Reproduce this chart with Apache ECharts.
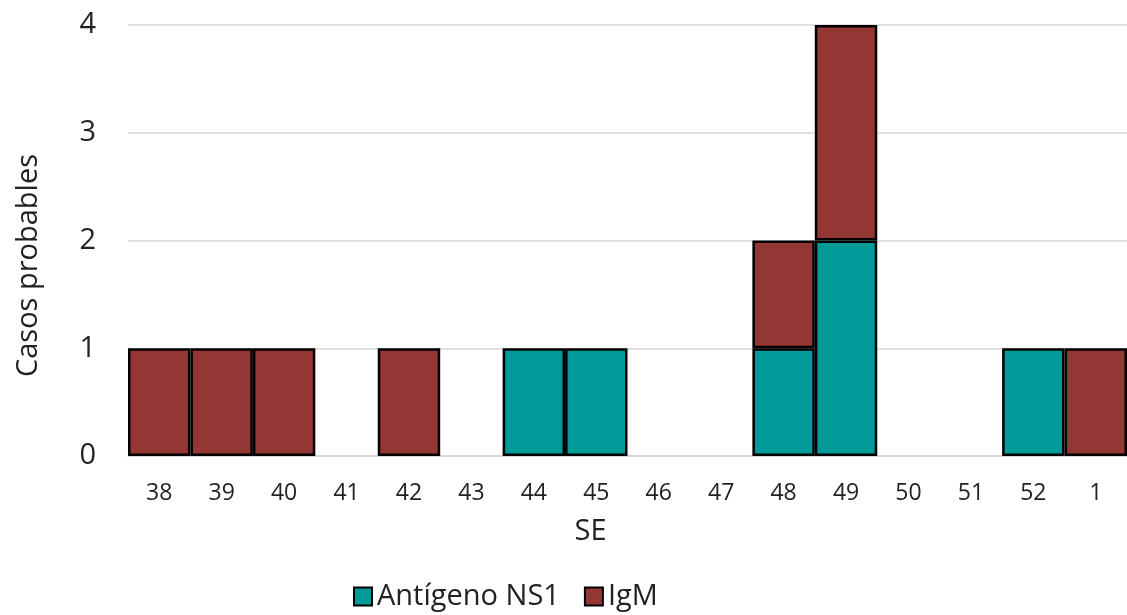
<!DOCTYPE html>
<html>
<head>
<meta charset="utf-8">
<script src="https://cdn.jsdelivr.net/npm/echarts@6/dist/echarts.min.js"></script>
<style>html,body{margin:0;padding:0;background:#fff}#c{width:1127px;height:615px}</style>
</head>
<body>
<div id="c"></div>
<script>
var categories = ['38','39','40','41','42','43','44','45','46','47','48','49','50','51','52','1'];
var ns1 = [0,0,0,0,0,0,1,1,0,0,1,2,0,0,1,0];
var igm = [1,1,1,0,1,0,0,0,0,0,1,2,0,0,0,1];
var yTicks = [0,1,2,3,4];

var font = '"Open Sans", "Noto Sans", sans-serif';
function nz(a){ return a.map(function(v){ return v === 0 ? '-' : v; }); }

var chart = echarts.init(document.getElementById('c'));
chart.setOption({
  animation: false,
  textStyle: { fontFamily: font },
  grid: { left: 128, right: 0, top: 25, bottom: 159, containLabel: false },
  legend: {
    left: 348, top: 577,
    itemWidth: 18, itemHeight: 18, itemGap: 24,
    textStyle: { fontSize: 29, color: '#222', fontFamily: font },
    data: [
      { name: 'Antígeno NS1', icon: 'rect', itemStyle: { borderColor: '#000', borderWidth: 2 } },
      { name: 'IgM', icon: 'rect', itemStyle: { borderColor: '#000', borderWidth: 2 } }
    ]
  },
  xAxis: {
    type: 'category',
    data: categories,
    name: 'SE',
    nameLocation: 'middle',
    nameGap: 61,
    nameTextStyle: { fontSize: 29, color: '#222', fontFamily: font, padding: [0, 74, 0, 0] },
    axisLine: { lineStyle: { color: '#d9d9d9', width: 2 } },
    axisTick: { show: false },
    axisLabel: { fontSize: 23, color: '#222', margin: 26, fontFamily: font }
  },
  yAxis: {
    type: 'value',
    min: yTicks[0], max: yTicks[yTicks.length - 1], interval: 1,
    name: 'Casos probables',
    nameLocation: 'middle',
    nameGap: 85,
    nameTextStyle: { fontSize: 29, color: '#222', fontFamily: font, padding: [0, 50, 0, 0] },
    axisLine: { show: false },
    axisTick: { show: false },
    axisLabel: { fontSize: 29, color: '#222', margin: 32, fontFamily: font },
    splitLine: { lineStyle: { color: '#d9d9d9', width: 1.5 } }
  },
  series: [
    {
      name: 'Antígeno NS1', type: 'bar', stack: 's',
      data: nz(ns1),
      barCategoryGap: '0%',
      itemStyle: { color: '#029a98', borderColor: '#000', borderWidth: 2.5 }
    },
    {
      name: 'IgM', type: 'bar', stack: 's',
      data: nz(igm),
      barCategoryGap: '0%',
      itemStyle: { color: '#943634', borderColor: '#000', borderWidth: 2.5 }
    }
  ]
});
</script>
</body>
</html>
